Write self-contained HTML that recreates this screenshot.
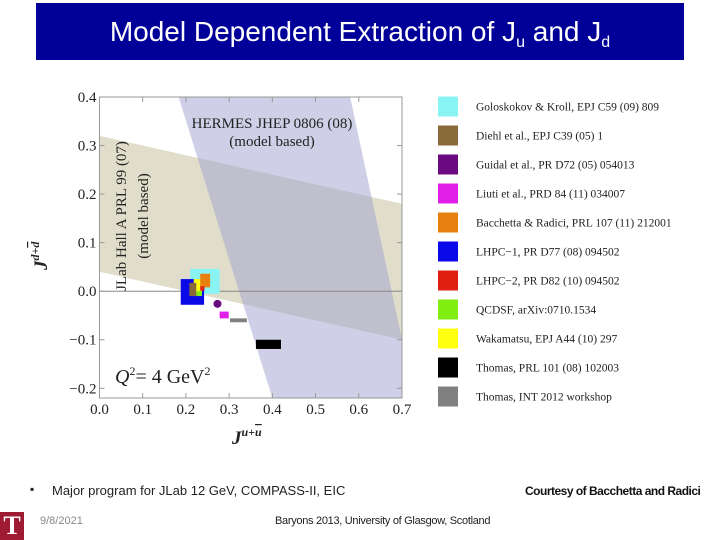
<!DOCTYPE html>
<html><head><meta charset="utf-8"><style>
body{margin:0;background:#fff;width:720px;height:540px;overflow:hidden;position:relative;font-family:"Liberation Sans",sans-serif}
#banner{position:absolute;left:36px;top:3px;width:648px;height:57px;background:#000099;color:#fff;font-size:28px;text-align:center;line-height:58px;}
#banner sub{font-size:16px;vertical-align:-6px}
.t{position:absolute;white-space:nowrap}
</style></head><body>
<div id="banner">Model Dependent Extraction of J<sub>u</sub> and J<sub>d</sub></div>
<svg id="chart" width="720" height="540" style="position:absolute;left:0;top:0"></svg>
<div class="t" style="left:30px;top:482px;font-size:12px;color:#222">▪</div>
<div class="t" style="left:52px;top:483px;font-size:13px;color:#222">Major program for JLab 12 GeV, COMPASS-II, EIC</div>
<div class="t" style="left:525px;top:484px;font-size:12px;font-weight:bold;color:#111;letter-spacing:-0.5px">Courtesy of Bacchetta and Radici</div>
<div class="t" style="left:40px;top:515px;font-size:11px;color:#888">9/8/2021</div>
<div class="t" style="left:275px;top:515px;font-size:11px;color:#222;letter-spacing:-0.3px">Baryons 2013, University of Glasgow, Scotland</div>
<div class="t" style="left:0;top:512px;width:24px;height:28px;background:#9e1b32;color:#fff;font-family:'Liberation Serif',serif;font-size:26px;line-height:28px;text-align:center;font-weight:bold">T</div>
<script>
const xTicks=[0,0.1,0.2,0.3,0.4,0.5,0.6,0.7];
const yTicks=[-0.2,-0.1,0,0.1,0.2,0.3,0.4];
const xTickLabels=["0.0","0.1","0.2","0.3","0.4","0.5","0.6","0.7"];
const yTickLabels=["\u22120.2","\u22120.1","0.0","0.1","0.2","0.3","0.4"];
const jlabBand=[[0,0.32],[0.7,0.18],[0.7,-0.10],[0,0.04]];
const hermesBand=[[0.183,0.4],[0.58,0.4],[0.753,-0.32],[0.435,-0.32]];
const rectNames=["goloskokov","blue-lhpc1","yellow-wakamatsu","brown-diehl","green-qcdsf","orange-bacchetta","red-lhpc2","magenta-liuti","gray-thomas-int","black-thomas"];
const rectColors=["#88f4f4","#0a0ae8","#ffff10","#8a6a3a","#80ee10","#e88010","#e02010","#e020e8","#808080","#000000"];
const rectX0=[0.21,0.188,0.218,0.208,0.224,0.233,0.233,0.278,0.302,0.362];
const rectX1=[0.278,0.242,0.237,0.224,0.237,0.256,0.243,0.299,0.341,0.42];
const rectY0=[-0.0055,-0.028,-0.005,-0.01,-0.01,0.008,0.001,-0.056,-0.064,-0.119];
const rectY1=[0.046,0.025,0.025,0.017,0.0,0.036,0.01,-0.042,-0.056,-0.1];
const circleX=[0.273], circleY=[-0.026];
const legendLabels=["Goloskokov & Kroll, EPJ C59 (09) 809","Diehl et al., EPJ C39 (05) 1","Guidal et al., PR D72 (05) 054013","Liuti et al., PRD 84 (11) 034007","Bacchetta & Radici, PRL 107 (11) 212001","LHPC\u22121, PR D77 (08) 094502","LHPC\u22122, PR D82 (10) 094502","QCDSF, arXiv:0710.1534","Wakamatsu, EPJ A44 (10) 297","Thomas, PRL 101 (08) 102003","Thomas, INT 2012 workshop"];
const legendColors=["#88f4f4","#8a6a3a","#6a0a80","#e020e8","#e88010","#0a0ae8","#e02010","#80ee10","#ffff10","#000000","#808080"];

const svg=document.getElementById('chart');const NS="http://www.w3.org/2000/svg";
const L=99.5,R=402,T=97,B=398,X0=0,X1=0.7,Y0=-0.22,Y1=0.4;
const sx=v=>L+(v-X0)/(X1-X0)*(R-L), sy=v=>B-(v-Y0)/(Y1-Y0)*(B-T);
function mk(tag,attrs,parent){const e=document.createElementNS(NS,tag);for(const k in attrs)e.setAttribute(k,attrs[k]);(parent||svg).appendChild(e);return e;}
const defs=mk('defs',{});const cp=mk('clipPath',{id:'pc'},defs);mk('rect',{x:L,y:T,width:R-L,height:B-T},cp);
const g=mk('g',{'clip-path':'url(#pc)'});
let e=mk('polygon',{points:jlabBand.map(p=>sx(p[0])+','+sy(p[1])).join(' '),fill:'#d6d3b8','fill-opacity':'0.75'},g);

e=mk('polygon',{points:hermesBand.map(p=>sx(p[0])+','+sy(p[1])).join(' '),fill:'#a0a0d0','fill-opacity':'0.5'},g);

mk('line',{x1:L,x2:R,y1:sy(0),y2:sy(0),stroke:'#888','stroke-width':1},g);
for(let i=0;i<rectNames.length;i++){
 e=mk('rect',{x:sx(rectX0[i]),y:sy(rectY1[i]),width:sx(rectX1[i])-sx(rectX0[i]),height:sy(rectY0[i])-sy(rectY1[i]),fill:rectColors[i]},g);
 
}
for(let i=0;i<circleX.length;i++){e=mk('circle',{cx:sx(circleX[i]),cy:sy(circleY[i]),r:4,fill:'#6a0a80'},g);
 }
e=mk('rect',{x:L,y:T,width:R-L,height:B-T,fill:'none',stroke:'#999','stroke-width':1});

xTicks.forEach((v,i)=>{mk('line',{x1:sx(v),x2:sx(v),y1:B,y2:B-5,stroke:'#999'});mk('line',{x1:sx(v),x2:sx(v),y1:T,y2:T+5,stroke:'#999'});
 e=mk('text',{x:sx(v),y:B+16,'text-anchor':'middle','font-family':'Liberation Serif,serif','font-size':15,fill:'#222'});e.textContent=xTickLabels[i];
 });
yTicks.forEach((v,i)=>{mk('line',{x1:L,x2:L+5,y1:sy(v),y2:sy(v),stroke:'#999'});mk('line',{x1:R,x2:R-5,y1:sy(v),y2:sy(v),stroke:'#999'});
 e=mk('text',{x:L-3,y:sy(v)+5,'text-anchor':'end','font-family':'Liberation Serif,serif','font-size':15,fill:'#222'});e.textContent=yTickLabels[i];
 });
function txt(s,a,n){const t=mk('text',Object.assign({'font-family':'Liberation Serif,serif',fill:'#222'},a));t.innerHTML=s;return t;}
txt('J<tspan font-size="12" dy="-8">u+<tspan text-decoration="overline">u</tspan></tspan>',{x:232,y:444,'font-size':19,'font-style':'italic','font-weight':'bold'},'x-axis-title');
txt('J<tspan font-size="12" dy="-8">d+<tspan text-decoration="overline">d</tspan></tspan>',{x:0,y:0,'font-size':19,'font-style':'italic','font-weight':'bold',transform:'translate(47,270) rotate(-90)'},'y-axis-title');
txt('HERMES JHEP 0806 (08)',{x:272,y:128,'text-anchor':'middle','font-size':15},'hermes-label');
txt('(model based)',{x:272,y:146,'text-anchor':'middle','font-size':15},'hermes-label-sub');
txt('JLab Hall A PRL 99 (07)',{x:0,y:0,'text-anchor':'middle','font-size':15,transform:'translate(126,216) rotate(-90)'},'jlab-label');
txt('(model based)',{x:0,y:0,'text-anchor':'middle','font-size':15,transform:'translate(148,216) rotate(-90)'},'jlab-label-sub');
txt('<tspan font-style="italic">Q</tspan><tspan font-size="12" dy="-8">2</tspan><tspan dy="8">= 4 GeV</tspan><tspan font-size="12" dy="-8">2</tspan>',{x:115,y:383,'font-size':20},'q2-label');
legendLabels.forEach((s,i)=>{const y=106.5+i*29;
 e=mk('rect',{x:438,y:y-10,width:20,height:20,fill:legendColors[i]});
 e=txt(s.replace(/&/g,'&amp;'),{x:476,y:y+4,'font-size':11.5},'legend-entry');});
</script>
</body></html>
